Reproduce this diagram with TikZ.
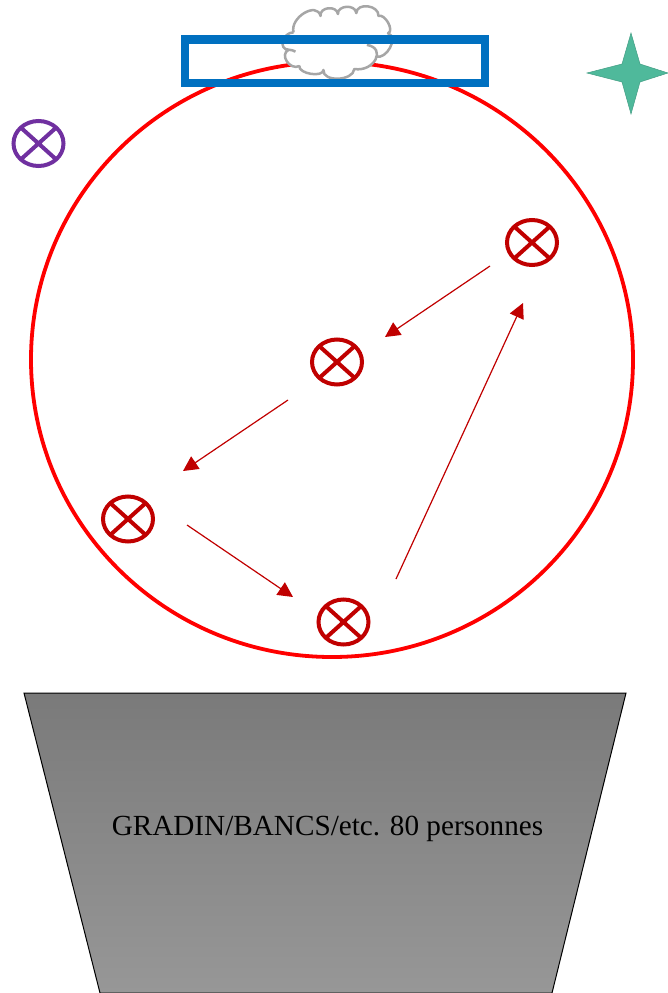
\documentclass[tikz,border=0pt]{standalone}
\usepackage{fontspec}
\setmainfont{Liberation Serif}
\usetikzlibrary{arrows.meta,shapes.geometric}
\definecolor{darkred}{HTML}{C00000}
\definecolor{purp}{HTML}{7030A0}
\definecolor{blu}{HTML}{0070C0}
\definecolor{teal2}{HTML}{4FB99B}
\definecolor{cloudgray}{HTML}{A6A6A6}
\definecolor{gtop}{HTML}{7A7A7A}
\definecolor{gbot}{HTML}{979797}
\tikzset{
  crossed/.style={ellipse,draw=#1,line width=4pt,minimum width=50pt,minimum height=45pt,inner sep=0pt,outer sep=0pt,
    path picture={\draw[#1,line width=4pt] (path picture bounding box.north west)--(path picture bounding box.south east)
      (path picture bounding box.north east)--(path picture bounding box.south west);}},
  flow/.style={draw=darkred,line width=1.2pt,-{Triangle[length=15pt,width=15pt]}}
}
\begin{document}
\begin{tikzpicture}[x=1pt,y=-1pt]
\useasboundingbox (0,0) rectangle (668,993);
% stage circle
\node[ellipse,draw=red,line width=3.8pt,minimum width=602pt,minimum height=595pt,inner sep=0pt] (stage) at (332,359.5) {};
% cloud
\begin{scope}[shift={(336,42)},scale=0.965,shift={(-336,-42)}]
\fill[white] (292,32) .. controls (288,16.7) and (316,-0.3) .. (320,15)
  .. controls (318.7,5.7) and (336.7,3.7) .. (338,13)
  .. controls (337.3,3.7) and (356.3,2.7) .. (357,12)
  .. controls (357.7,0.7) and (380.7,3.7) .. (380,15)
  .. controls (386.7,12.3) and (396.7,30.3) .. (390,33)
  .. controls (401.3,37) and (388.3,61) .. (377,57)
  -- (368,45) .. controls (388.7,48.3) and (375.7,73.3) .. (355,70)
  .. controls (353.7,82.7) and (321.7,83.7) .. (323,71)
  .. controls (322.3,79) and (297.3,75) .. (298,67)
  .. controls (288,71.7) and (277,54.7) .. (287,50)
  .. controls (275.7,50) and (280.7,32) .. (292,32) -- cycle;
\draw[cloudgray,line width=2.5pt,line join=round]
  (292,32) .. controls (288,16.7) and (316,-0.3) .. (320,15)
  .. controls (318.7,5.7) and (336.7,3.7) .. (338,13)
  .. controls (337.3,3.7) and (356.3,2.7) .. (357,12)
  .. controls (357.7,0.7) and (380.7,3.7) .. (380,15)
  .. controls (386.7,12.3) and (396.7,30.3) .. (390,33)
  .. controls (401.3,37) and (388.3,61) .. (377,57)
  (368,45) .. controls (388.7,48.3) and (375.7,73.3) .. (355,70)
  .. controls (353.7,82.7) and (321.7,83.7) .. (323,71)
  .. controls (322.3,79) and (297.3,75) .. (298,67)
  .. controls (288,71.7) and (277,54.7) .. (287,50)
  .. controls (290,50) and (292,51) .. (294,52)
  (287,50) .. controls (275.7,50) and (280.7,32) .. (292,32);
\end{scope}
% bar
\node[draw=blu,line width=8.5pt,minimum width=300pt,minimum height=43.5pt,inner sep=0pt] (bar) at (335,61) {};
% star
\path[fill=teal2,draw=teal2!85!black,line width=.5pt] (631,33) -- (640,64) -- (668,73) -- (640,82) -- (631,114) -- (622,82) -- (587,73) -- (622,64) -- cycle;
% performers
\node[crossed=purp] (p0) at (38.5,143.5) {};
\node[crossed=darkred] (p1) at (532,242.5) {};
\node[crossed=darkred] (p2) at (337,362) {};
\node[crossed=darkred] (p3) at (128,519) {};
\node[crossed=darkred] (p4) at (343.5,622) {};
% arrows
\coordinate (a1s) at (490,266);
\coordinate (a1e) at (385,337);
\coordinate (a2s) at (288,400);
\coordinate (a2e) at (183,471);
\coordinate (a3s) at (187,525);
\coordinate (a3e) at (293,597);
\coordinate (a4s) at (396,579);
\coordinate (a4e) at (523,303);
\draw[flow] (a1s) -- (a1e);
\draw[flow] (a2s) -- (a2e);
\draw[flow] (a3s) -- (a3e);
\draw[flow] (a4s) -- (a4e);
% stands
\path[draw=black,line width=1pt,top color=gtop,bottom color=gbot]
  (24,693) -- (626,693) -- (552,993) -- (100,993) -- cycle;
\node[font=\fontsize{29.2}{32}\selectfont,text=black,inner sep=0pt] (stands) at (327.5,829) {GRADIN/BANCS/etc. 80 personnes};
\end{tikzpicture}
\end{document}
